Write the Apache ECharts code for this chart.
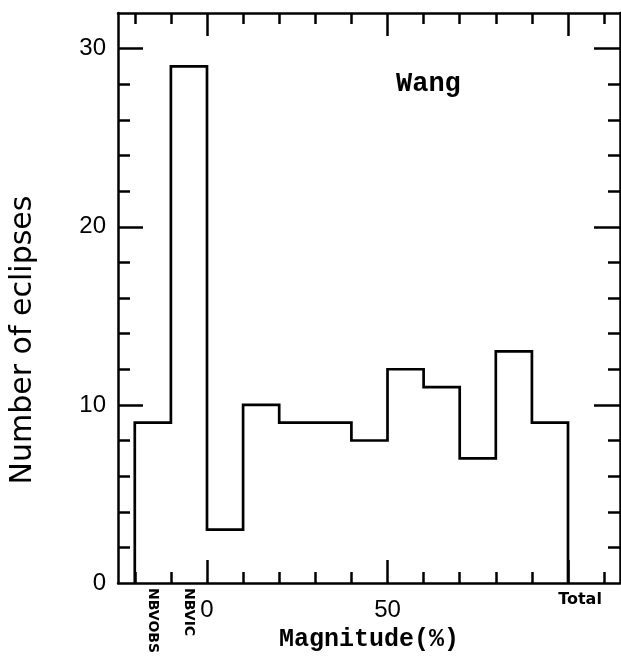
<!DOCTYPE html>
<html>
<head>
<meta charset="utf-8">
<script src="https://cdn.jsdelivr.net/npm/echarts@6/dist/echarts.min.js"></script>
<style>
html,body{margin:0;padding:0;background:#fff;}
#chart{width:621px;height:663px;}
</style>
</head>
<body>
<div id="chart"></div>
<script>
// ---- data ----
const binEdges = [-20, -10, 0, 10, 20, 30, 40, 50, 60, 70, 80, 90, 100];
const counts = [9, 29, 3, 10, 9, 9, 8, 12, 11, 7, 13, 9];
const specialCategories = ['NBVOBS', 'NBVIC'];
const specialPositions = [-15, -5];
const xMinorTicks = [-20, -10, 0, 10, 20, 30, 40, 50, 60, 70, 80, 90, 100, 110];
const xMajorTicks = [0, 50, 100];
const xTickLabels = [0, 50];
const totalLabel = 'Total';
const totalPosition = 100;
const yMinorTicks = [2, 4, 6, 8, 12, 14, 16, 18, 22, 24, 26, 28];
const yMajorTicks = [10, 20, 30];
const yTickLabels = [0, 10, 20, 30];

// build histogram outline from bins
const outline = [[binEdges[0], 0]];
for (let i = 0; i < counts.length; i++) {
  outline.push([binEdges[i], counts[i]]);
  outline.push([binEdges[i + 1], counts[i]]);
}
outline.push([binEdges[binEdges.length - 1], 0]);

const X_MIN = -24.65, X_MAX = 114.4, Y_MIN = 0, Y_MAX = 32;
const black = '#000';
const lineW = 2.5;

function xAxisBase(pos, showLine) {
  return {
    type: 'value', position: pos, min: X_MIN, max: X_MAX,
    axisLine: { show: showLine, onZero: false, lineStyle: { color: black, width: lineW } },
    splitLine: { show: false },
    axisTick: { show: false },
    axisLabel: { show: false }
  };
}
function yAxisBase(pos, showLine) {
  return {
    type: 'value', position: pos, min: Y_MIN, max: Y_MAX,
    axisLine: { show: showLine, onZero: false, lineStyle: { color: black, width: lineW } },
    splitLine: { show: false },
    axisTick: { show: false },
    axisLabel: { show: false }
  };
}

const xAxes = [];
// 0: bottom line, minor ticks, labels 0/50
let a = xAxisBase('bottom', true);
a.axisTick = { show: true, inside: true, length: 11, customValues: xMinorTicks, lineStyle: { color: black, width: lineW } };
a.axisLabel = { show: true, customValues: xTickLabels, margin: 15, color: black,
  fontFamily: 'Liberation Sans', fontSize: 24 };
xAxes.push(a);
// 1: bottom major ticks + rotated special labels
a = xAxisBase('bottom', false);
a.axisTick = { show: true, inside: true, length: 23, customValues: xMajorTicks, lineStyle: { color: black, width: lineW } };
a.axisLabel = { show: true, customValues: specialPositions, rotate: -90, margin: 5, color: black,
  fontFamily: 'DejaVu Sans', fontWeight: 'bold', fontSize: 14,
  formatter: v => specialCategories[specialPositions.indexOf(v)] || '' };
xAxes.push(a);
// 2: bottom Total label
a = xAxisBase('bottom', false);
a.axisLabel = { show: true, customValues: [totalPosition], margin: 9, color: black,
  fontFamily: 'DejaVu Sans', fontWeight: 'bold', fontSize: 16, padding: [0, 0, 0, 24],
  formatter: () => totalLabel };
xAxes.push(a);
// 3: top line + minor ticks
a = xAxisBase('top', true);
a.axisTick = { show: true, inside: true, length: 11, customValues: xMinorTicks, lineStyle: { color: black, width: lineW } };
xAxes.push(a);
// 4: top major ticks
a = xAxisBase('top', false);
a.axisTick = { show: true, inside: true, length: 23, customValues: xMajorTicks, lineStyle: { color: black, width: lineW } };
xAxes.push(a);
// name on axis 0
xAxes[0].name = 'Magnitude(%)';
xAxes[0].nameLocation = 'middle';
xAxes[0].nameGap = 36;
xAxes[0].nameTextStyle = { color: black, fontFamily: 'Liberation Mono', fontWeight: 'bold', fontSize: 25 };

const yAxes = [];
let b = yAxisBase('left', true);
b.axisTick = { show: true, inside: true, length: 12, customValues: yMinorTicks, lineStyle: { color: black, width: lineW } };
b.axisLabel = { show: true, customValues: yTickLabels, margin: 12, color: black,
  fontFamily: 'Liberation Sans', fontSize: 24 };
b.name = 'Number of eclipses';
b.nameLocation = 'middle';
b.nameRotate = 90;
b.nameGap = 80;
b.nameTextStyle = { color: black, fontFamily: 'DejaVu Sans', fontSize: 30, padding: [0, 84, 0, 0] };
yAxes.push(b);
b = yAxisBase('left', false);
b.axisTick = { show: true, inside: true, length: 25, customValues: yMajorTicks, lineStyle: { color: black, width: lineW } };
yAxes.push(b);
b = yAxisBase('right', true);
b.axisTick = { show: true, inside: true, length: 12, customValues: yMinorTicks, lineStyle: { color: black, width: lineW } };
yAxes.push(b);
b = yAxisBase('right', false);
b.axisTick = { show: true, inside: true, length: 26, customValues: yMajorTicks, lineStyle: { color: black, width: lineW } };
yAxes.push(b);

const chart = echarts.init(document.getElementById('chart'), null, { renderer: 'canvas' });
chart.setOption({
  animation: false,
  backgroundColor: '#fff',
  title: {
    text: 'Wang', left: 391, top: 66,
    textStyle: { color: black, fontFamily: 'Liberation Mono', fontWeight: 'bold', fontSize: 27 }
  },
  grid: { left: 118, right: 1, top: 13, bottom: 80, containLabel: false },
  xAxis: xAxes,
  yAxis: yAxes,
  series: [{
    type: 'line', xAxisIndex: 0, yAxisIndex: 0,
    data: outline, symbol: 'none', showSymbol: false,
    lineStyle: { color: black, width: 2.7, join: 'miter' },
    silent: true
  }]
});
</script>
</body>
</html>
